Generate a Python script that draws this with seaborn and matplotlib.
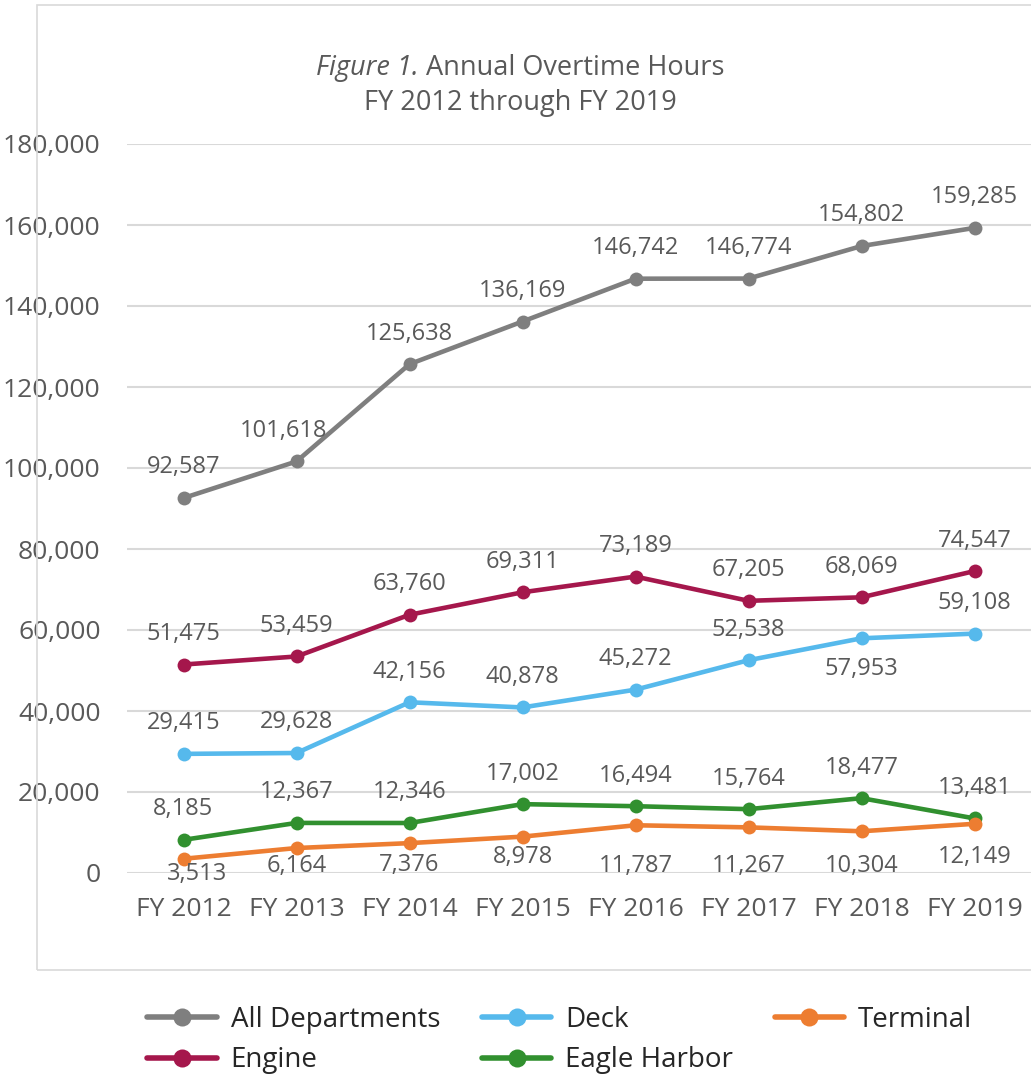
import numpy as np
import pandas as pd
import matplotlib
matplotlib.use("Agg")
import matplotlib.pyplot as plt
from matplotlib.lines import Line2D
from matplotlib.patches import Rectangle
import seaborn as sns

anios = ["FY 2012", "FY 2013", "FY 2014", "FY 2015", "FY 2016", "FY 2017", "FY 2018", "FY 2019"]
todos = [92587, 101618, 125638, 136169, 146742, 146774, 154802, 159285]
engine = [51475, 53459, 63760, 69311, 73189, 67205, 68069, 74547]
deck = [29415, 29628, 42156, 40878, 45272, 52538, 57953, 59108]
eagle = [8185, 12367, 12346, 17002, 16494, 15764, 18477, 13481]
terminal = [3513, 6164, 7376, 8978, 11787, 11267, 10304, 12149]

series = {
    "All Departments": todos,
    "Engine": engine,
    "Deck": deck,
    "Eagle Harbor": eagle,
    "Terminal": terminal,
}
colores = {
    "All Departments": "#7f7f7f",
    "Engine": "#a5174c",
    "Deck": "#56b9ec",
    "Eagle Harbor": "#31902f",
    "Terminal": "#ed7d31",
}

filas = []
for nombre, valores in series.items():
    for a, v in zip(anios, valores):
        filas.append({"anio": a, "horas": v, "dept": nombre})
df = pd.DataFrame(filas)

sns.set_style("white")
plt.rcParams["font.family"] = ["Open Sans", "DejaVu Sans"]
gris = "#595959"

fig = plt.figure(figsize=(10.31, 10.78), dpi=100)
ax = fig.add_axes([127 / 1031, 1 - 873 / 1078, 904 / 1031, (873 - 144) / 1078])

# marco exterior del grafico
fig.patches.append(Rectangle((37 / 1031, 1 - 970 / 1078), 1.0, 965 / 1078,
                             transform=fig.transFigure, fill=False,
                             edgecolor="#d9d9d9", linewidth=1.2))

sns.lineplot(data=df, x="anio", y="horas", hue="dept", palette=colores,
             marker="o", markersize=10, markeredgewidth=0, linewidth=3.3,
             sort=False, legend=False, ax=ax, zorder=3)
for ln in ax.lines:
    ln.set_clip_on(False)

ax.set_xlim(-0.5, 7.5)
ax.set_ylim(0, 180000)
ax.set_yticks(np.arange(0, 180001, 20000))
ax.yaxis.set_major_formatter(matplotlib.ticker.FuncFormatter(lambda v, p: f"{int(v):,}"))
ax.grid(axis="y", color="#d9d9d9", linewidth=1.5)
ax.grid(axis="x", visible=False)
for s in ax.spines.values():
    s.set_visible(False)
ax.tick_params(axis="y", labelsize=19, labelcolor=gris, length=0, pad=19)
ax.tick_params(axis="x", labelsize=19, labelcolor=gris, length=0, pad=17)
ax.set_xlabel("")
ax.set_ylabel("")

# etiquetas de datos
abajo_terminal = [-11, -13, -16, -15, -29, -28, -25, -24]
for nombre, valores in series.items():
    for i, v in enumerate(valores):
        dy = 22
        if nombre == "Terminal":
            dy = abajo_terminal[i]
        elif nombre == "Deck" and i == 6:
            dy = -22
        dx = 0
        if nombre == "Terminal" and i == 0:
            dx = 10
        if nombre == "All Departments" and i == 1:
            dx = -9
        ax.annotate(f"{v:,}", (i, v), xytext=(dx, dy), textcoords="offset points",
                    ha="center", va="center", fontsize=17, color=gris, zorder=4)

# titulo: primera parte en cursiva
fig.canvas.draw()
r = fig.canvas.get_renderer()
t1 = fig.text(0, 1 - 68 / 1078, "Figure 1.", fontsize=19.5, style="italic", color=gris, va="center")
t2 = fig.text(0, 1 - 68 / 1078, " Annual Overtime Hours", fontsize=19.5, color=gris, va="center")
w1 = t1.get_window_extent(r).width
w2 = t2.get_window_extent(r).width
x0 = 520 - (w1 + w2) / 2
t1.set_x(x0 / 1031)
t2.set_x((x0 + w1) / 1031)
fig.text(520 / 1031, 1 - 103 / 1078, "FY 2012 through FY 2019", ha="center", va="center",
         fontsize=19.5, color=gris)

orden = ["All Departments", "Engine", "Deck", "Eagle Harbor", "Terminal"]
handles = [Line2D([], [], color=colores[n], marker="o", markersize=13, markeredgewidth=0,
                  linewidth=4) for n in orden]
fig.legend(handles, orden, loc="center", bbox_to_anchor=(0.543, 1 - 1040 / 1078), ncol=3,
           frameon=False, fontsize=20, labelcolor="#262626", handlelength=2.5,
           columnspacing=1.5, handletextpad=0.5, labelspacing=0.45)

plt.savefig("out.png", dpi=100)
plt.close()
